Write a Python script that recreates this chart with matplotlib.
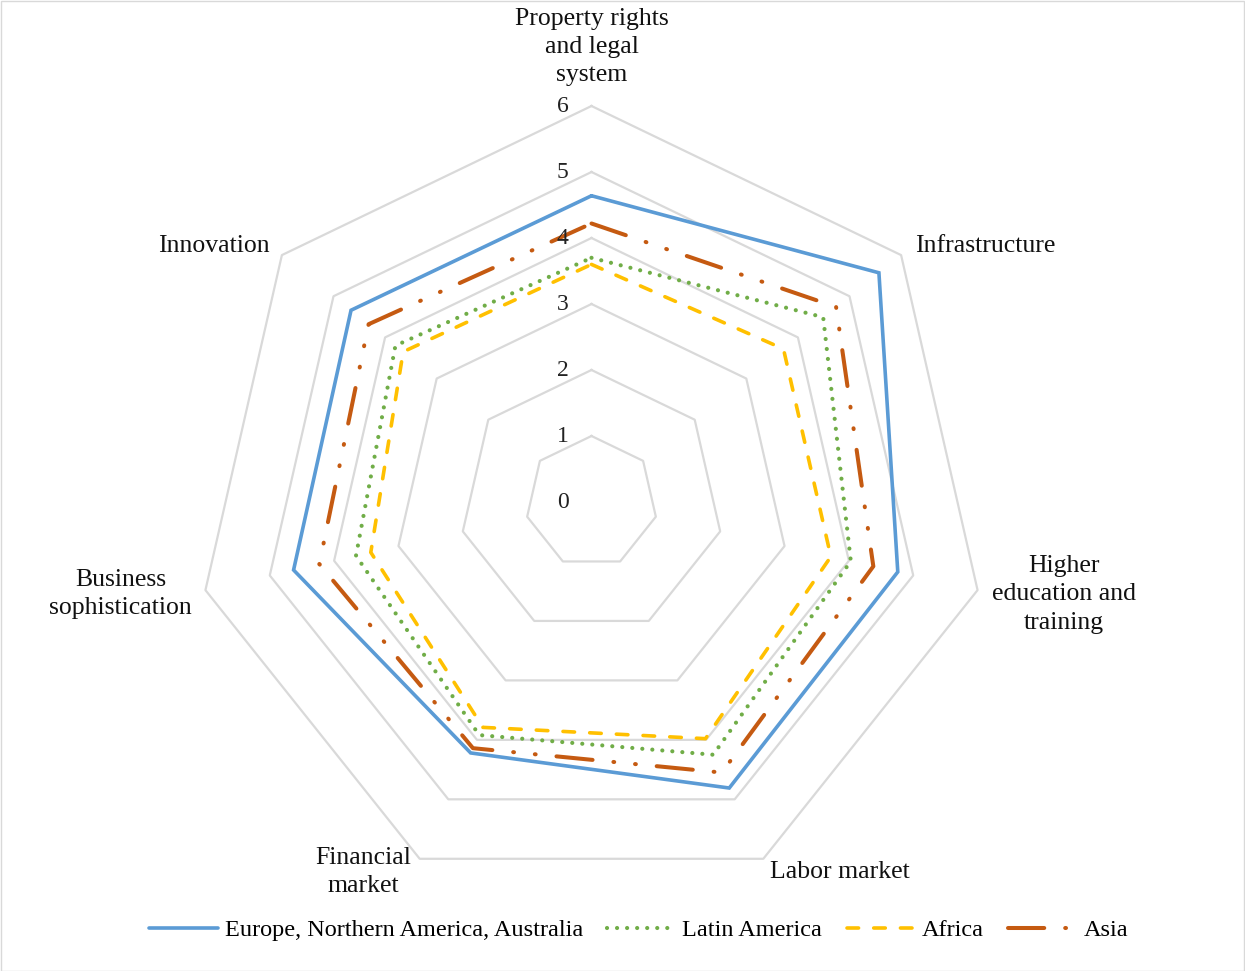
import numpy as np
import matplotlib
matplotlib.use("Agg")
import matplotlib.pyplot as plt
from matplotlib.patches import Rectangle

plt.rcParams['font.family'] = ['Liberation Serif', 'DejaVu Serif']

categories = ["Property rights\nand legal\nsystem", "Infrastructure",
              "Higher\neducation and\ntraining", "Labor market",
              "Financial\nmarket", "Business\nsophistication", "Innovation"]
europe = [4.64, 5.57, 4.76, 4.81, 4.22, 4.63, 4.66]
latin = [3.70, 4.49, 4.03, 4.25, 3.92, 3.66, 3.80]
africa = [3.60, 3.72, 3.72, 3.98, 3.79, 3.43, 3.65]
asia = [4.22, 4.74, 4.38, 4.55, 4.14, 4.23, 4.32]
series_names = ["Europe, Northern America, Australia", "Latin America", "Africa", "Asia"]
rticks = [0, 1, 2, 3, 4, 5, 6]

W, H = 1245, 971
fig = plt.figure(figsize=(W / 100, H / 100), dpi=100)
fig.patches.append(Rectangle((0.5 / W, 0.5 / H), 1 - 1.5 / W, 1 - 1.5 / H,
                             transform=fig.transFigure, fill=False,
                             edgecolor='#D9D9D9', linewidth=1.0))

cx, cy, R = 591.5, 502.0, 396.0
ax = fig.add_axes([(cx - R) / W, (H - cy - R) / H, 2 * R / W, 2 * R / H], projection='polar')
ax.set_theta_offset(np.pi / 2)
ax.set_theta_direction(-1)
ax.set_ylim(0, 6)
ax.grid(False)
ax.spines['polar'].set_visible(False)
ax.set_xticks([])
ax.set_yticks([])
ax.patch.set_alpha(0)

n = len(categories)
theta = np.linspace(0, 2 * np.pi, n, endpoint=False)
theta_c = np.append(theta, theta[0])

for r in rticks[1:]:
    ax.plot(theta_c, [r] * (n + 1), color='#D9D9D9', lw=1.6, zorder=1, clip_on=False)

for r in rticks:
    ax.annotate(str(r), xy=(0, r), xytext=(-29, 0), textcoords='offset pixels',
                ha='center', va='center', fontsize=17, color='#222222', zorder=5)

def close(v):
    return list(v) + [v[0]]

styles = [
    dict(color='#5B9BD5', lw=2.6, linestyle='-', solid_capstyle='round', solid_joinstyle='miter'),
    dict(color='#70AD47', lw=3.0, linestyle=(0, (0.01, 2.4)), dash_capstyle='round'),
    dict(color='#FFC000', lw=2.6, linestyle=(0, (3.2, 4.2)), dash_capstyle='round'),
    dict(color='#C55A11', lw=2.9, linestyle=(0, (9, 5.2, 0.2, 5.2, 0.2, 5.2)), dash_capstyle='round'),
]
for vals, name, st in zip([europe, latin, africa, asia], series_names, styles):
    ax.plot(theta_c, close(vals), label=name, zorder=3, clip_on=False, **st)

offsets = [(0, 59), (84, 9), (86, -4), (77, -13), (-56, -13), (-85, -4), (-68, 9)]
for t, lab, off in zip(theta, categories, offsets):
    ax.annotate(lab, xy=(t, 6), xytext=off, textcoords='offset pixels',
                ha='center', va='center', fontsize=18.5, linespacing=1.38,
                color='#111111', annotation_clip=False)

leg = fig.legend(loc='center', bbox_to_anchor=(0.513, 0.042), ncol=4, frameon=False,
                 fontsize=17.5, handlelength=2.85, handletextpad=0.25, columnspacing=1.0)

fig.savefig("out.png", dpi=100)
